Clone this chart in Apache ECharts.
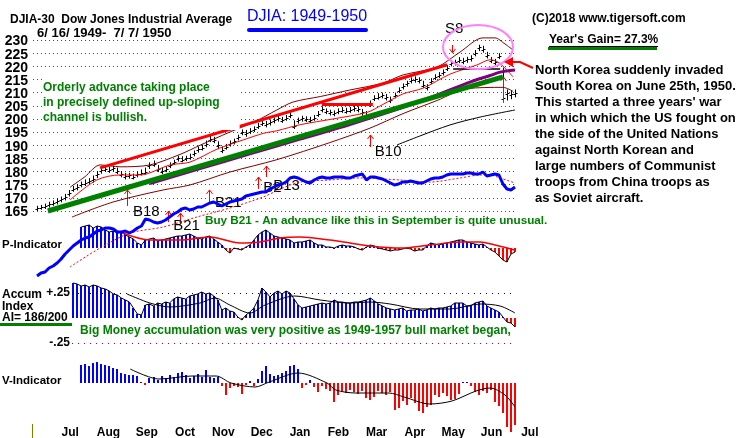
<!DOCTYPE html>
<html><head><meta charset="utf-8">
<script src="https://cdn.jsdelivr.net/npm/echarts@6/dist/echarts.min.js"></script>
<style>html,body{margin:0;padding:0;background:#fff}#c{width:745px;height:438px}</style>
</head><body><div id="c"></div>
<script>
// ---------- DATA ----------
const months = ['Jul','Aug','Sep','Oct','Nov','Dec','Jan','Feb','Mar','Apr','May','Jun','Jul'];
const priceTicks = [165,170,175,180,185,190,195,200,205,210,215,220,225,230];
// one bar every ~2 trading days, 6/16/1949 .. 7/7/1950
const closes = [166.0,166.5,166.8,167.5,168.0,168.8,169.5,170.3,172.0,173.5,
 174.0,175.2,175.8,176.5,177.0,179.0,180.5,181.0,180.6,181.3,
 180.2,179.0,178.2,178.5,178.0,179.0,179.5,180.0,182.5,183.0,
 181.0,180.2,181.0,182.5,183.5,185.0,184.5,185.0,185.5,187.0,
 188.5,189.0,190.5,192.5,192.0,190.0,188.2,189.5,190.8,191.5,
 193.0,195.0,194.5,195.5,196.0,197.5,198.4,198.0,198.8,199.5,
 200.3,199.6,200.5,201.5,197.5,199.5,200.3,200.0,199.6,200.5,
 202.0,203.8,203.0,202.5,202.2,203.0,203.5,203.2,203.4,204.0,
 203.8,202.5,201.5,206.0,208.0,208.5,209.0,208.2,207.2,209.0,
 211.0,212.5,213.5,214.8,215.0,214.8,213.0,212.0,214.5,216.0,
 216.8,217.8,219.5,221.2,221.5,222.4,222.0,222.6,223.0,225.0,
 227.3,226.5,224.3,222.4,221.6,224.0,208.0,210.0,209.5,210.0];
const highs = [167.0,167.3,167.8,168.5,169.0,169.8,170.5,171.5,173.0,174.5,
 175.2,176.2,177.0,177.5,178.5,180.2,181.5,182.0,181.8,182.3,
 181.5,180.2,179.5,179.5,179.2,180.0,180.8,181.5,183.5,184.2,
 182.5,181.5,182.0,183.5,184.5,186.0,185.8,186.0,186.8,188.0,
 189.5,190.2,191.8,193.5,193.2,191.5,189.5,190.5,191.8,192.5,
 194.0,196.0,195.8,196.5,197.2,198.5,199.5,199.2,199.8,200.5,
 201.2,200.8,201.5,202.5,199.5,200.5,201.2,201.0,200.8,201.5,
 203.0,204.8,204.0,203.5,203.2,204.0,204.5,204.2,204.5,205.0,
 204.8,203.8,203.0,207.0,209.0,209.8,210.0,209.5,208.5,210.0,
 212.0,213.5,214.5,215.8,216.2,215.8,214.5,213.2,215.5,217.0,
 217.8,218.8,220.5,222.2,222.5,223.5,223.2,223.6,224.2,226.2,
 228.2,227.8,225.5,223.5,222.8,225.0,219.5,211.2,210.8,211.2];
const lows = [165.0,165.5,165.8,166.3,167.0,167.5,168.3,169.0,170.5,172.3,
 172.8,174.0,174.5,175.3,175.8,177.5,179.2,179.8,179.5,180.0,
 179.0,177.8,177.0,177.3,177.0,177.8,178.5,178.8,181.0,181.8,
 179.8,179.0,179.8,181.3,182.5,183.8,183.5,184.0,184.5,185.8,
 187.2,188.0,189.2,191.2,190.8,188.5,187.0,188.3,189.5,190.3,
 191.8,193.8,193.2,194.3,195.0,196.2,197.3,196.8,197.5,198.3,
 199.0,198.5,199.3,200.3,196.2,198.2,199.0,198.8,198.5,199.3,
 200.8,202.5,201.8,201.3,201.0,201.8,202.3,202.0,202.3,202.8,
 202.5,201.2,200.3,204.5,206.8,207.3,207.8,207.0,206.0,207.8,
 209.8,211.2,212.3,213.5,213.8,213.5,211.8,210.8,213.2,214.8,
 215.5,216.5,218.2,220.0,220.3,221.2,220.8,221.3,221.8,223.8,
 225.8,225.2,223.0,221.2,220.5,222.8,206.4,207.0,207.5,208.2];
// [bar index, value]
const ma21 = [[8.2,169.2],[14.9,176.8],[20.7,178.7],[25.6,178.7],[33.1,182.5],[38.1,183.6],[44.8,188.5],[51.3,192],[56.3,194.5],[59.7,195.5],[65.5,197.8],[73.7,200],[82.2,202.5],[86.1,205.5],[91.1,209.5],[96.1,211.7],[102.8,217],[109.5,220.5],[112.8,222.5],[115.3,221],[118.5,216]];
const upperBand = [[8.2,174],[11.9,178],[15.7,182.5],[20.7,181.8],[28.1,182.5],[35.6,186.5],[40.6,190],[48.0,195],[54.3,199],[59.7,203.4],[63.7,206.4],[70.5,208.5],[77.9,211],[86.1,213.6],[91.1,216.7],[99.6,219.7],[105.3,225.4],[111.0,230.8],[114.0,230.8],[116.5,228.5],[118.5,226.2]];
const lowerBand = [[8.7,162.7],[18.9,168.4],[31.4,173],[38.1,174.9],[48.0,179.8],[59.7,184.5],[72.9,191],[82.9,196.5],[91.1,202],[99.6,207],[107.0,211.5],[116.0,212],[118.5,210.5]];
const ma200 = [[89.6,190.1],[95.3,193.5],[102.8,197.7],[110.3,200.7],[119.0,203.4]];
const purpleLine = [[28.1,175.4],[40.6,181.1],[53.0,186.7],[65.5,192.3],[77.9,197.9],[90.4,204.0],[100.3,209.5],[107.8,214],[112.8,216.5],[115.3,217.8],[119.0,218.6]];
const greenTrend = [[2.7,165],[116.0,216]];
const redChannel = [[15.7,181.4],[102.1,220.6]];
const resistance = [[70.9,205.5],[83.6,205.5]];
const blackLevel = [[103.6,219],[115.3,219]];
// signals: [index, tip price, base price]
const upArrows = [[22.4,173.0,166.9],[32.6,165.0,160.8],[35.6,164.2,160.4],[42.8,173.0,168.4],[55.0,177.9,173.4],[57.0,182.1,177.9],[82.9,193.9,189.3],[116.0,215.9,206.1]];
const downArrows = [[103.3,225.1,228.1]];
const signalLabels = [['B18',23.9,164.6],['B21',33.9,159.3],['B21',44.3,168.0],['B2',56.3,173.7],['B13',58.8,174.5],['B10',84.1,187.4],['S8',101.6,234.2]];
// relative strength line (index 0..119)
const rs = [4,7,8,12,14,17,21,26,30,34,
 37,40,42,43,46,49,50,52,52,51,
 48,48,49,47,49,52,54,61,60,58,
 57,58,60,63,66,68,71,72,70,71,
 73,73,75,77,78,76,74,76,78,79,
 80,81,84,85,86,87,88,88,91,93,
 95,96,98,102,103,102,100,98,97,100,
 102,103,102,102,103,103,103,102,102,104,
 105,106,100,103,103,102,101,99,97,95,
 96,98,98,99,98,97,97,99,101,102,
 102,103,105,106,106,106,106,107,107,106,
 106,108,104,105,106,105,96,91,90,93];
const rsMA = [[8.2,13],[15.7,32],[23.2,47],[31.4,53],[39.8,63],[48.0,72],[56.3,83],[61.2,92],[65.5,98],[72.9,100],[80.4,102],[90.4,100],[97.8,98],[105.3,102],[110.3,105],[112.8,105],[115.3,102],[119.0,97]];
// P-Indicator (index 11..119)
const pStart = 11;
const pInd = [21,22,23,20,22,21,18,16,17,15,
 16,13,11,9,5,3,8,9,10,7,
 8,9,10,11,12,12,13,14,12,10,
 9,11,12,9,6,3,-2,-5,0,-1,
 -2,1,3,8,13,16,18,15,12,11,
 10,9,8,5,6,6,7,8,5,3,
 3,1,1,0,2,3,2,2,1,-1,
 -2,1,3,2,0,-1,-2,-3,-2,-2,
 -1,0,-1,-3,-2,-2,2,5,4,3,
 4,5,6,7,8,8,6,5,4,3,
 4,1,-2,-4,-8,-12,-14,-6,-4];
const pMA = [[20.7,16],[28.1,8],[35.6,8],[43.1,11],[50.5,5],[55.5,6],[60.5,10],[65.5,11],[72.9,8],[77.9,5],[82.9,2],[90.4,0],[97.8,3],[105.3,6],[110.3,6],[114.0,3],[119.0,-2]];
// Accumulation Index (index 9..119)
const aiStart = 9;
const aiVals = [.35,.34,.32,.33,.31,.33,.32,.30,.29,.27,
 .24,.23,.20,.18,.16,.10,.04,.03,.13,.14,
 .12,.15,.14,.16,.15,.19,.21,.20,.19,.22,
 .23,.24,.26,.24,.25,.22,.18,.08,.10,.07,
 .06,.01,-.02,.03,.06,.10,.18,.30,.26,.21,
 .25,.27,.24,.27,.25,.19,.13,.10,.11,.12,
 .13,.14,.15,.14,.15,.18,.16,.16,.15,.15,
 .16,.16,.17,.18,.20,.17,.14,.12,.10,.09,
 .08,.09,.10,.07,.08,.08,.09,.07,.08,.10,
 .09,.10,.10,.11,.12,.15,.15,.15,.12,.12,
 .15,.16,.17,.12,.10,.08,.06,.01,-.04,-.05,-.09];
const aiMA = [[22.4,.24],[28.1,.15],[33.1,.11],[40.6,.15],[44.3,.20],[48.0,.13],[53.0,.05],[56.8,.13],[64.2,.22],[70.5,.18],[77.9,.15],[82.9,.16],[87.9,.14],[95.3,.09],[102.8,.09],[110.3,.14],[115.3,.12],[119.0,.05]];
const aiLevels = [0.25, -0.25];
// V-Indicator (index 11..119)
const vStart = 11;
const vInd = [18,19,17,20,21,19,18,17,15,14,
 10,9,8,8,7,1,-2,5,6,3,
 7,5,8,6,10,11,8,5,7,9,
 6,13,6,5,6,-3,-12,-5,-3,-4,
 -11,-2,2,-3,4,12,17,9,7,8,
 10,12,17,18,14,-5,-2,3,-4,-9,
 -3,-6,-8,-19,-12,-8,-10,-7,-9,-11,
 -8,-15,-17,-14,-8,-10,-12,-9,-27,-25,
 -18,-22,-15,-20,-28,-30,-24,-22,-12,-14,
 -10,-13,-17,-16,-11,1,1,-3,-9,-12,
 -8,-10,-7,-19,-23,-30,-44,-49,-42];
const vMA = [[23.2,14],[30.4,4],[38.6,7],[44.6,7],[48.3,0],[54.3,-4],[57.8,1],[65.0,10],[72.2,0],[74.4,-7],[79.4,-10],[87.6,-10],[91.4,-14],[97.8,-21],[103.3,-18],[109.3,-8],[112.8,-5],[116.5,-12],[119.0,-24]];

// ---------- CHART ----------
const F = "'Liberation Sans', Arial, Helvetica, sans-serif";
const GREEN = '#008000';
const chart = echarts.init(document.getElementById('c'));

function grid(top, height, left, right){
  return {left: left==null?33:left, right: right==null?230:right, top, height, containLabel:false, outerBoundsMode:'none'};
}
function xAx(g){ return {type:'value', gridIndex:g, min:-1, max:119, show:false}; }
function yAx(g, min, max, extra){
  return Object.assign({type:'value', gridIndex:g, min, max, axisLine:{show:false}, axisTick:{show:false}, axisLabel:{show:false}, splitLine:{show:false}}, extra||{});
}
function line(data, xi, color, width, extra){
  return Object.assign({type:'line', xAxisIndex:xi, yAxisIndex:xi, data, showSymbol:false, symbol:'none', silent:true, clip:false,
    lineStyle:{color, width}, animation:false}, extra||{});
}
function barRender(params, api){
  const i = api.value(0), v = api.value(1);
  const p0 = api.coord([i, 0]), p1 = api.coord([i, v]);
  return {type:'rect', shape:{x:Math.round(p0[0])-1, y:Math.min(p0[1],p1[1]), width:2, height:Math.max(1,Math.abs(p1[1]-p0[1]))},
    style:{fill: v >= 0 ? '#0000ff' : '#ff0000'}};
}
function indexed(arr, start){ return arr.map((v,k)=>[k+start, v]); }

const priceData = closes.map((c,i)=>[i, highs[i], lows[i], c]);

const option = {
  animation:false,
  backgroundColor:'#ffffff',
  grid:[grid(40,171), grid(160,120), grid(208,80), grid(268,100), grid(333,100), grid(415,10,51,196)],
  xAxis:[xAx(0), xAx(1), xAx(2), xAx(3), xAx(4),
    {type:'category', gridIndex:5, data:months, axisLine:{show:false}, axisTick:{show:false},
     axisLabel:{interval:0, margin:2, color:'#000', fontFamily:F, fontWeight:'bold', fontSize:12}}],
  yAxis:[
    yAx(0,165,230,{interval:5,
      splitLine:{show:true, showMinLine:true, showMaxLine:true, lineStyle:{color:GREEN, type:[1,3], width:1}}}),
    yAx(1,0,120),
    yAx(2,-40,40),
    yAx(3,-0.5,0.5,{interval:0.25, axisLabel:{show:true, margin:-37, color:'#000', fontFamily:F, fontWeight:'bold', fontSize:12,
      formatter:function(v){ return v===0.25?'+.25':(v===-0.25?'-.25':''); }}}),
    yAx(4,-50,50),
    {type:'value', gridIndex:5, show:false}
  ],
  series:[
    // price axis tick labels (placed through the price scale)
    {type:'custom', xAxisIndex:0, yAxisIndex:0, data:priceTicks.map(v=>[-1, v]), silent:true, clip:false,
      renderItem:function(params, api){
        const p = api.coord([api.value(0), api.value(1)]);
        return {type:'text', x:p[0]-5, y:p[1]+1.5, style:{text:String(api.value(1)), font:'bold 14px '+F, fill:'#000', align:'right', verticalAlign:'middle'}};
      }},
    // indicator panels
    {type:'custom', xAxisIndex:2, yAxisIndex:2, data:indexed(pInd,pStart), renderItem:barRender, silent:true},
    line(indexed(pInd,pStart), 2, '#000', 1),
    line(pMA, 2, '#ff0000', 1.5, {smooth:0.3}),
    {type:'custom', xAxisIndex:3, yAxisIndex:3, data:indexed(aiVals,aiStart), renderItem:barRender, silent:true,
      markLine:{silent:true, symbol:'none', label:{show:false},
        data:[
          [{coord:[8.7,aiLevels[0]], lineStyle:{color:'#000', type:[1,5], width:1}},{coord:[119,aiLevels[0]]}],
          [{coord:[8.7,aiLevels[1]], lineStyle:{color:'#800080', type:[1,5], width:1}},{coord:[119,aiLevels[1]]}]
        ]}},
    line(indexed(aiVals,aiStart), 3, '#000', 1),
    line(aiMA, 3, '#000', 1, {smooth:0.3}),
    {type:'custom', xAxisIndex:4, yAxisIndex:4, data:indexed(vInd,vStart), renderItem:barRender, silent:true},
    line(vMA, 4, '#000', 1, {smooth:0.3}),
    // price panel lines
    line(lowerBand, 0, '#800000', 1, {smooth:0.3}),
    line(upperBand, 0, '#800000', 1, {smooth:0.3}),
    line(ma200, 0, '#000', 1, {smooth:0.3}),
    line(purpleLine, 0, '#800080', 3, {smooth:0.3}),
    line(greenTrend, 0, GREEN, 5),
    line(ma21, 0, '#ff0000', 1, {smooth:0.3}),
    line(redChannel, 0, '#ff0000', 3),
    line(resistance, 0, '#ff0000', 3),
    line(blackLevel, 0, '#000', 1.5),
    // RS line
    line(rsMA, 1, '#ff0000', 1, {smooth:0.3, lineStyle:{color:'#ff0000', width:1, type:[2,2]}}),
    line(indexed(rs,0), 1, '#0000ff', 3),
    // price bars
    {type:'custom', xAxisIndex:0, yAxisIndex:0, data:priceData, silent:true, clip:false,
      renderItem:function(params, api){
        const i = api.value(0);
        const h = api.coord([i, api.value(1)]), l = api.coord([i, api.value(2)]), c = api.coord([i, api.value(3)]);
        const x = Math.round(h[0]) + 0.5;
        return {type:'group', children:[
          {type:'line', shape:{x1:x, y1:h[1], x2:x, y2:l[1]}, style:{stroke:'#000', lineWidth:1}},
          {type:'line', shape:{x1:x, y1:Math.round(c[1])+0.5, x2:x+2, y2:Math.round(c[1])+0.5}, style:{stroke:'#000', lineWidth:1}},
          {type:'line', shape:{x1:x-2, y1:Math.round(c[1])+1.5, x2:x, y2:Math.round(c[1])+1.5}, style:{stroke:'#000', lineWidth:1}}
        ]};
      }},
    // signal arrows
    {type:'custom', xAxisIndex:0, yAxisIndex:0, data:upArrows.concat(downArrows), silent:true, clip:false,
      renderItem:function(params, api){
        const i = api.value(0);
        const t = api.coord([i, api.value(1)]), b = api.coord([i, api.value(2)]);
        const x = Math.round(t[0]) + 0.5;
        const dir = b[1] > t[1] ? 1 : -1;
        return {type:'group', children:[
          {type:'line', shape:{x1:x, y1:b[1], x2:x, y2:t[1]}, style:{stroke:'#ff0000', lineWidth:1}},
          {type:'polyline', shape:{points:[[x-3, t[1]+4*dir],[x, t[1]],[x+3, t[1]+4*dir]]}, style:{stroke:'#ff0000', lineWidth:1, fill:'none'}}
        ]};
      }},
    {type:'custom', xAxisIndex:0, yAxisIndex:0, data:signalLabels.map(d=>[d[1], d[2]]), silent:true, clip:false,
      renderItem:function(params, api){
        const p = api.coord([api.value(0), api.value(1)]);
        return {type:'text', x:p[0], y:p[1], style:{text:signalLabels[params.dataIndex][0], font:'15px '+F, fill:'#000', align:'left', verticalAlign:'middle'}};
      }}
  ],
  graphic:[
    {type:'text', x:10, y:20, z:100, style:{text:'DJIA-30  Dow Jones Industrial Average', font:'bold 12px '+F, fill:'#000', verticalAlign:'middle'}},
    {type:'text', x:37, y:33, z:100, style:{text:'6/ 16/ 1949-  7/ 7/ 1950', font:'bold 13px '+F, fill:'#000', verticalAlign:'middle'}},
    {type:'text', x:247, y:17, z:100, style:{text:'DJIA: 1949-1950', font:'16px '+F, fill:'#0000ff', verticalAlign:'middle'}},
    {type:'rect', z:100, shape:{x:247, y:28, width:121, height:4, r:2}, style:{fill:'#0000ff'}},
    {type:'text', x:532, y:19, z:100, style:{text:'(C)2018 www.tigersoft.com', font:'bold 12px '+F, fill:'#000', verticalAlign:'middle'}},
    {type:'text', x:549, y:40, z:100, style:{text:"Year's Gain= 27.3%", font:'bold 12px '+F, fill:'#000', verticalAlign:'middle'}},
    {type:'line', z:100, shape:{x1:549, y1:46.5, x2:658, y2:46.5}, style:{stroke:'#000', lineWidth:1}},
    {type:'rect', z:100, shape:{x:548, y:47, width:109, height:3}, style:{fill:GREEN}},
    {type:'text', x:535, y:62, z:100, style:{text:"North Korea suddenly invaded\nSouth Korea on June 25th, 1950.\nThis started a three years' war\nin which which the US fought on\nthe side of the United Nations\nagainst North Korean and\nlarge numbers of Communist\ntroops from China troops as\nas Soviet aircraft.", font:'bold 13px '+F, fill:'#000', lineHeight:16.1, verticalAlign:'top'}},
    {type:'text', x:43, y:75, z:100, style:{text:'Orderly advance taking place\nin precisely defined up-sloping\nchannel is bullish.', font:'bold 12px '+F, fill:GREEN, lineHeight:15, verticalAlign:'top', backgroundColor:'#fff', padding:[5,20,5,0]}},
    {type:'text', x:205, y:221, z:100, style:{text:'Buy B21 - An advance like this in September is quite unusual.', font:'bold 11.7px '+F, fill:GREEN, verticalAlign:'middle'}},
    {type:'text', x:2, y:245, z:100, style:{text:'P-Indicator', font:'bold 11.5px '+F, fill:'#000', verticalAlign:'middle'}},
    {type:'text', x:2, y:289, z:100, style:{text:'Accum\nIndex\nAI= 186/200', font:'bold 12px '+F, fill:'#000', lineHeight:11.5, verticalAlign:'top'}},
    {type:'rect', z:100, shape:{x:0, y:323, width:72, height:3}, style:{fill:GREEN}},
    {type:'text', x:80, y:331, z:100, style:{text:'Big Money accumulation was very positive as 1949-1957 bull market began,', font:'bold 12px '+F, fill:GREEN, verticalAlign:'middle'}},
    {type:'text', x:2, y:381, z:100, style:{text:'V-Indicator', font:'bold 11.5px '+F, fill:'#000', verticalAlign:'middle'}},
    {type:'ellipse', z:100, shape:{cx:478, cy:47, rx:35, ry:22}, style:{fill:'none', stroke:'#ff80ff', lineWidth:2}},
    {type:'polyline', z:100, shape:{points:[[533,68],[520,62],[511,62]]}, style:{stroke:'#ff0000', lineWidth:2, fill:'none'}},
    {type:'polygon', z:100, shape:{points:[[504,62],[513,57],[513,67]]}, style:{fill:'#ff0000'}},
    {type:'line', z:100, shape:{x1:32.5, y1:424, x2:32.5, y2:438}, style:{stroke:'#808000', lineWidth:1}}
  ]
};
chart.setOption(option);
</script></body></html>
